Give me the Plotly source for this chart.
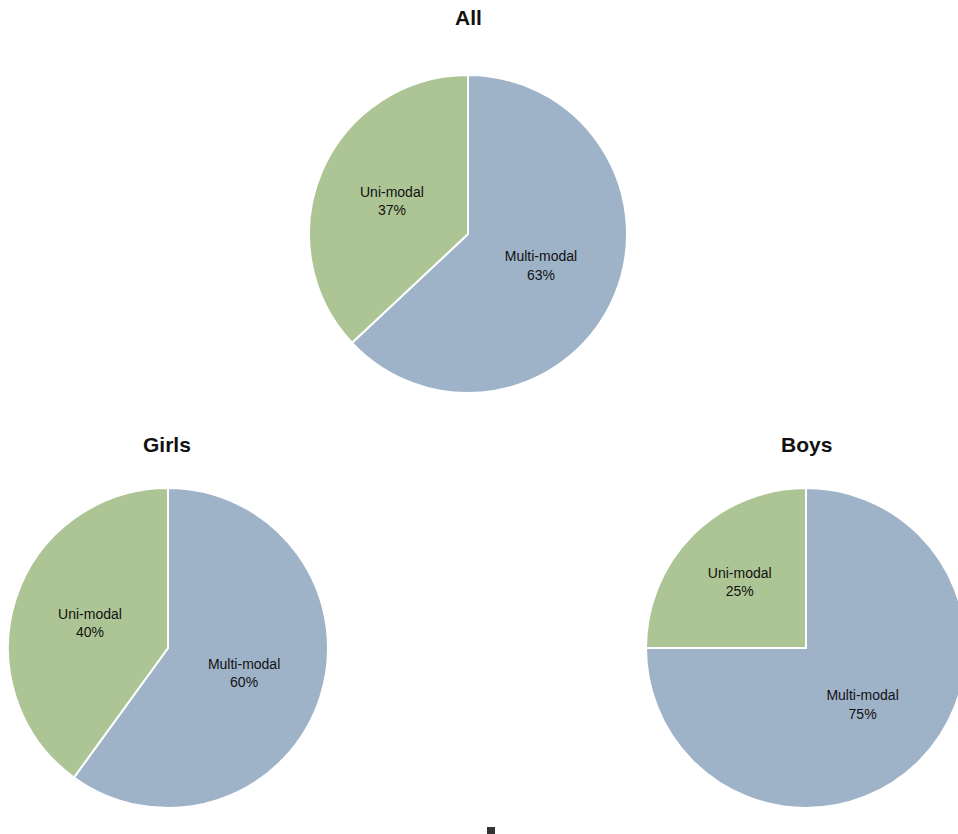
import plotly.graph_objects as go

# Share of uni-modal vs multi-modal responses per group
categories = ["Multi-modal", "Uni-modal"]
groups = ["All", "Girls", "Boys"]
all_values = [63, 37]
girls_values = [60, 40]
boys_values = [75, 25]

colors = ["#9fb3c8", "#adc594"]

W, H = 966, 834


def px_x(v):
    return v / W


def px_y(v):
    return 1 - v / H


# pie domains laid out in pixel space: one pie on top, two below
domains = {
    "All": dict(x=[px_x(309), px_x(627)], y=[px_y(393), px_y(75)]),
    "Girls": dict(x=[px_x(8), px_x(328)], y=[px_y(808), px_y(488)]),
    "Boys": dict(x=[px_x(646), px_x(966)], y=[px_y(808), px_y(488)]),
}
values = {"All": all_values, "Girls": girls_values, "Boys": boys_values}
title_pos = {"All": (468, 18), "Girls": (167, 444), "Boys": (806, 444)}

fig = go.Figure()
for g in groups:
    fig.add_trace(go.Pie(
        labels=categories,
        values=values[g],
        domain=domains[g],
        sort=False,
        direction="clockwise",
        rotation=0,
        marker=dict(colors=colors, line=dict(color="white", width=2)),
        textinfo="label+percent",
        textposition="inside",
        insidetextorientation="horizontal",
        texttemplate="%{label}<br>%{percent:.0%}",
        textfont=dict(family="Arial, Liberation Sans, sans-serif", size=14, color="#111111"),
        showlegend=False,
        name=g,
    ))

annotations = []
for g in groups:
    x, y = title_pos[g]
    annotations.append(dict(
        text="<b>%s</b>" % g,
        x=px_x(x), y=px_y(y), xref="paper", yref="paper",
        xanchor="center", yanchor="middle", showarrow=False,
        font=dict(family="Arial, Liberation Sans, sans-serif", size=21, color="#111111"),
    ))

fig.update_layout(
    width=W,
    height=H,
    margin=dict(l=0, r=0, t=0, b=0),
    paper_bgcolor="white",
    plot_bgcolor="white",
    annotations=annotations,
    shapes=[dict(
        type="rect", xref="paper", yref="paper",
        x0=px_x(487), x1=px_x(495), y0=0, y1=px_y(827),
        fillcolor="#333333", line=dict(width=0),
    )],
)

fig.write_html(
    "out.html",
    post_script="document.body.style.margin='0';document.body.style.overflow='hidden';"
                "document.documentElement.style.overflow='hidden';",
)
